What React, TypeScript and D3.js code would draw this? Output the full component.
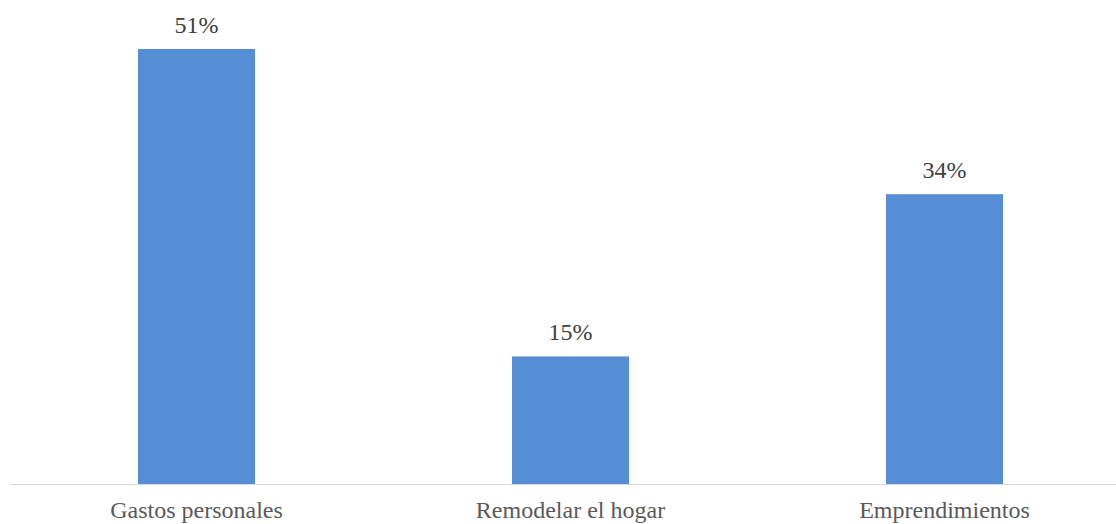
import React from "react";
import * as d3 from "d3";

const categories = ["Gastos personales", "Remodelar el hogar", "Emprendimientos"];
const values = [51, 15, 34];
const valueLabels = ["51%", "15%", "34%"];

export default function App() {
  const W = 1116, H = 524;
  const baseY = 484.5;
  const x = d3.scaleBand<string>().domain(categories).range([9.5, 1131.5]).paddingInner(0.687).paddingOuter(0.3435);
  const y = d3.scaleLinear().domain([0, 51]).range([baseY, 49]);
  const font = "Liberation Serif";
  return (
    <svg width={W} height={H} style={{ position: "absolute", left: 0, top: 0, background: "#fff" }}>
      {categories.map((c, i) => (
        <g key={c}>
          <rect x={x(c)} y={y(values[i])} width={x.bandwidth()} height={baseY - y(values[i])} fill="#558ED5" />
          <text x={x(c)! + x.bandwidth() / 2} y={y(values[i]) - 16} textAnchor="middle" style={{ fontFamily: font, fontSize: 24 }} fill="#404040">{valueLabels[i]}</text>
          <text x={x(c)! + x.bandwidth() / 2} y={518} textAnchor="middle" style={{ fontFamily: font, fontSize: 24 }} fill="#595959">{c}</text>
        </g>
      ))}
      <line x1={10} x2={W} y1={baseY} y2={baseY} stroke="#D9D9D9" strokeWidth={1} />
    </svg>
  );
}
